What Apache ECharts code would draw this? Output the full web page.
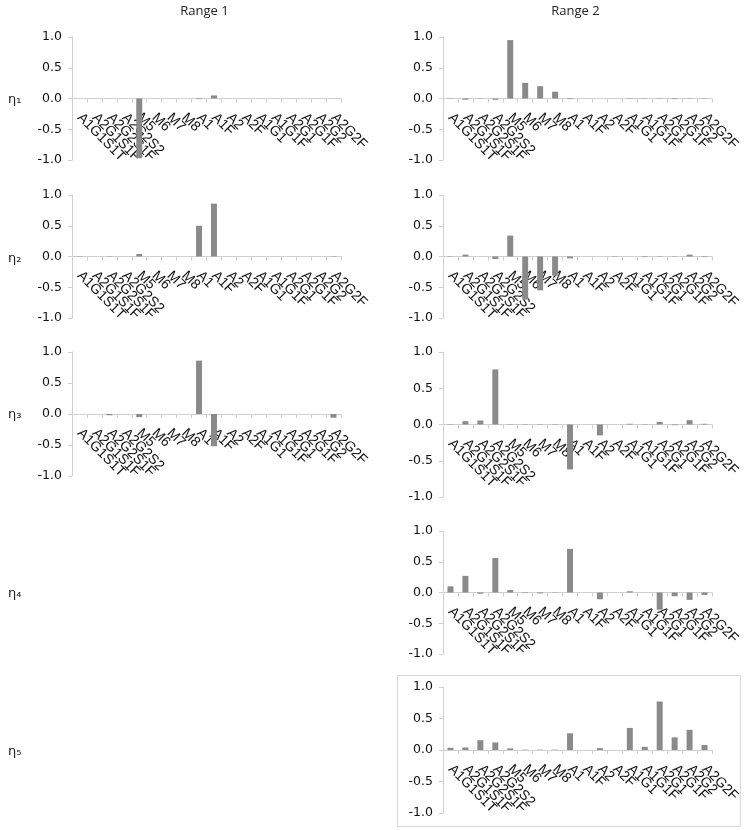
<!DOCTYPE html>
<html>
<head>
<meta charset="utf-8">
<script src="https://cdn.jsdelivr.net/npm/echarts@6/dist/echarts.min.js"></script>
<style>html,body{margin:0;padding:0;background:#fff}#c{width:745px;height:830px}</style>
</head>
<body>
<div id="c"></div>
<script>
var categories = ["A1G1S1T","A2G1S1F","A2G2S1F","A2G2S2","M5","M6","M7","M8","A1","A1F","A2","A2F","A1G1","A1G1F","A2G1","A2G1F","A2G2","A2G2F"];
var yTicks = [-1.0, -0.5, 0.0, 0.5, 1.0];
var columnTitles = ["Range 1", "Range 2"];
var rowLabels = ["η₁", "η₂", "η₃", "η₄", "η₅"];

var r1e1 = [0,0,0,0,-0.97,0,0,0,-0.01,0.05,0,0,0,0,0,0,0,0];
var r1e2 = [-0.005,0,-0.005,0,0.04,0,0,0,0.5,0.86,0,0,0,0,0,0,0,-0.005];
var r1e3 = [0,0,-0.02,0,-0.05,0,0,0,0.86,-0.52,0,0,0,0,0,0,0,-0.06];
var r2e1 = [-0.005,-0.02,-0.005,-0.02,0.95,0.255,0.2,0.11,-0.01,0,0,0,-0.005,-0.005,-0.005,-0.01,-0.005,-0.005];
var r2e2 = [-0.005,0.03,0,-0.04,0.34,-0.7,-0.55,-0.31,-0.03,0,0,0.005,0,-0.01,-0.005,-0.005,0.03,-0.01];
var r2e3 = [0.005,0.045,0.055,0.76,0.005,-0.005,-0.005,-0.005,-0.62,0,-0.15,0,0.01,-0.005,0.035,-0.01,0.06,0.01];
var r2e4 = [0.1,0.27,-0.02,0.56,0.04,-0.01,-0.015,-0.005,0.71,0,-0.11,0,0.02,0,-0.28,-0.06,-0.12,-0.04];
var r2e5 = [0.035,0.04,0.155,0.12,0.025,0.005,0.005,0.005,0.265,0,0.03,0,0.35,0.05,0.77,0.2,0.32,0.08];

// panel layout: [column, row, top, height, data]
var panels = [
  [0, 0, 37, 123, r1e1],
  [0, 1, 195, 123, r1e2],
  [0, 2, 352, 124, r1e3],
  [1, 0, 37, 123, r2e1],
  [1, 1, 195, 123, r2e2],
  [1, 2, 352, 145, r2e3],
  [1, 3, 531, 123, r2e4],
  [1, 4, 687, 126, r2e5]
];
var colLeft = [72, 443];
var plotW = 269;
var rowZero = [98, 257, 413, 592, 750];

var grids = [], xAxes = [], yAxes = [], series = [];
panels.forEach(function (p, i) {
  grids.push({left: colLeft[p[0]], top: p[2], width: plotW, height: p[3], containLabel: false});
  xAxes.push({
    type: 'category', gridIndex: i, data: categories, boundaryGap: true,
    position: 'bottom', offset: -p[3] / 2,
    axisLine: {onZero: false, lineStyle: {color: '#d0d0d0', width: 1}},
    axisTick: {show: true, length: 4, inside: false, alignWithLabel: false, interval: 0, lineStyle: {color: '#d0d0d0'}},
    axisLabel: {interval: 0, rotate: -45, margin: 17, fontFamily: 'Liberation Sans', fontSize: 14, color: '#111'},
    splitLine: {show: false}
  });
  yAxes.push({
    type: 'value', gridIndex: i, min: yTicks[0], max: yTicks[yTicks.length - 1], interval: 0.5,
    axisLine: {show: true, lineStyle: {color: '#d0d0d0'}},
    axisTick: {show: true, length: 4, lineStyle: {color: '#d0d0d0'}},
    axisLabel: {margin: 10, fontFamily: 'DejaVu Sans', fontSize: 12.5, color: '#111', formatter: function (v) { return v.toFixed(1); }},
    splitLine: {show: false}
  });
  series.push({
    type: 'bar', xAxisIndex: i, yAxisIndex: i, data: p[4], barWidth: '40%',
    itemStyle: {color: '#8a8a8a'}, animation: false, silent: true
  });
});

var graphics = [];
columnTitles.forEach(function (t, c) {
  graphics.push({type: 'text', x: colLeft[c] + plotW / 2 - 2, y: 5,
    style: {text: t, fontFamily: 'Open Sans', fontSize: 13, fill: '#222', textAlign: 'center'}});
});
rowLabels.forEach(function (t, r) {
  graphics.push({type: 'text', x: 8, y: rowZero[r] - 5,
    style: {text: t, fontFamily: 'DejaVu Sans', fontSize: 13, fill: '#222'}});
});
graphics.push({type: 'rect', shape: {x: 397.5, y: 675.5, width: 343, height: 151},
  style: {fill: 'none', stroke: '#d9d9d9', lineWidth: 1}, z: -1});

var chart = echarts.init(document.getElementById('c'), null, {renderer: 'canvas'});
chart.setOption({
  animation: false,
  grid: grids, xAxis: xAxes, yAxis: yAxes, series: series,
  graphic: graphics
});
</script>
</body>
</html>
